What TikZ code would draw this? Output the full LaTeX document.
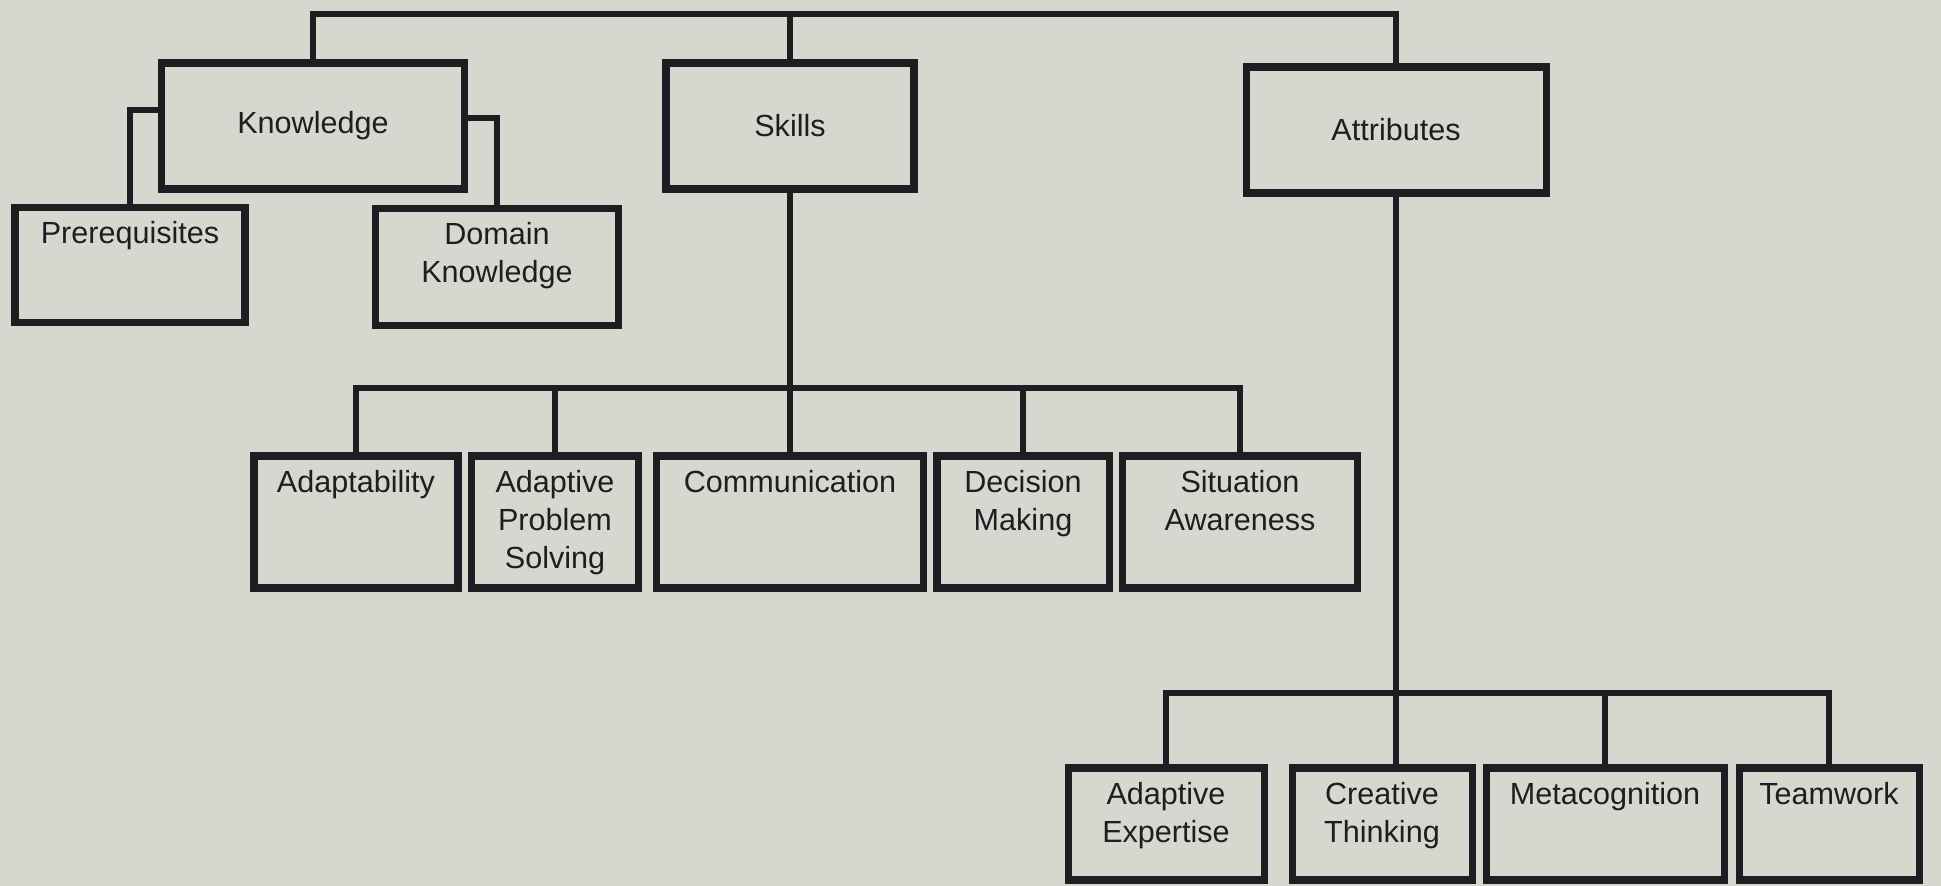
\documentclass[tikz,border=0pt]{standalone}
\usepackage{fontspec}
\setmainfont{Liberation Sans}
\definecolor{paper}{RGB}{214,216,208}
\definecolor{ink}{RGB}{28,30,34}
\tikzset{
  unitbox/.style={draw=ink, line width=2pt, inner sep=0pt, text=ink, font=\fontsize{8.7}{10.8}\selectfont},
  link/.style={draw=ink, line width=1.7pt},
}
\newcommand{\midlbl}[3]{\parbox[c][#2][c]{#1}{\centering #3}}
\newcommand{\toplbl}[3]{\parbox[c][#2][t]{#1}{\centering\vspace*{4pt}#3}}

\begin{document}
\begin{tikzpicture}[x=0.1mm, y=-0.1mm]
    \useasboundingbox (0,0) rectangle (1941,886);
    \fill[paper] (0,0) rectangle (1941,886);
    % top row
    \node[unitbox] (know) at (313,126) {\midlbl{3.03cm}{1.26cm}{Knowledge}};
    \node[unitbox] (skills) at (790,126) {\midlbl{2.48cm}{1.26cm}{Skills}};
    \node[unitbox] (attr) at (1396,130) {\midlbl{3.0cm}{1.26cm}{Attributes}};
    \coordinate (topbar) at (0,14);
    \draw[link] (know.north) -- (know.north |- topbar) -- (attr.north |- topbar) -- (attr.north);
    \draw[link] (skills.north) -- (skills.north |- topbar);
    % knowledge
    \node[unitbox] (prereq) at (130,265) {\toplbl{2.3cm}{1.15cm}{Prerequisites}};
    \node[unitbox] (domain) at (497,267) {\toplbl{2.43cm}{1.17cm}{Domain\\Knowledge}};
    \draw[link] ([yshift=0.16cm]know.west) -| (prereq.north);
    \draw[link] ([yshift=0.08cm]know.east) -| (domain.north);
    % skills
    \node[unitbox] (adapt) at (356,522) {\toplbl{2.04cm}{1.32cm}{Adaptability}};
    \node[unitbox] (aps) at (555,522) {\toplbl{1.67cm}{1.32cm}{Adaptive\\Problem\\Solving}};
    \node[unitbox] (comm) at (790,522) {\toplbl{2.67cm}{1.32cm}{Communication}};
    \node[unitbox] (dec) at (1023,522) {\toplbl{1.72cm}{1.32cm}{Decision\\Making}};
    \node[unitbox] (sit) at (1240,522) {\toplbl{2.35cm}{1.32cm}{Situation\\Awareness}};
    \coordinate (skillbar) at (0,388);
    \draw[link] (skills.south) -- (comm.north);
    \draw[link] (adapt.north) -- (adapt.north |- skillbar) -- (sit.north |- skillbar) -- (sit.north);
    \foreach \n in {aps,dec}
        \draw[link] (\n.north) -- (\n.north |- skillbar);
    % attributes
    \node[unitbox] (expert) at (1166,824) {\toplbl{1.96cm}{1.12cm}{Adaptive\\Expertise}};
    \node[unitbox] (creat) at (1382,824) {\toplbl{1.8cm}{1.12cm}{Creative\\Thinking}};
    \node[unitbox] (meta) at (1605,824) {\toplbl{2.38cm}{1.12cm}{Metacognition}};
    \node[unitbox] (team) at (1829,824) {\toplbl{1.8cm}{1.12cm}{Teamwork}};
    \coordinate (attrbar) at (0,693);
    \draw[link] (attr.south) -- (attr.south |- creat.north);
    \draw[link] (expert.north) -- (expert.north |- attrbar) -- (team.north |- attrbar) -- (team.north);
    \draw[link] (meta.north) -- (meta.north |- attrbar);
\end{tikzpicture}
\end{document}
